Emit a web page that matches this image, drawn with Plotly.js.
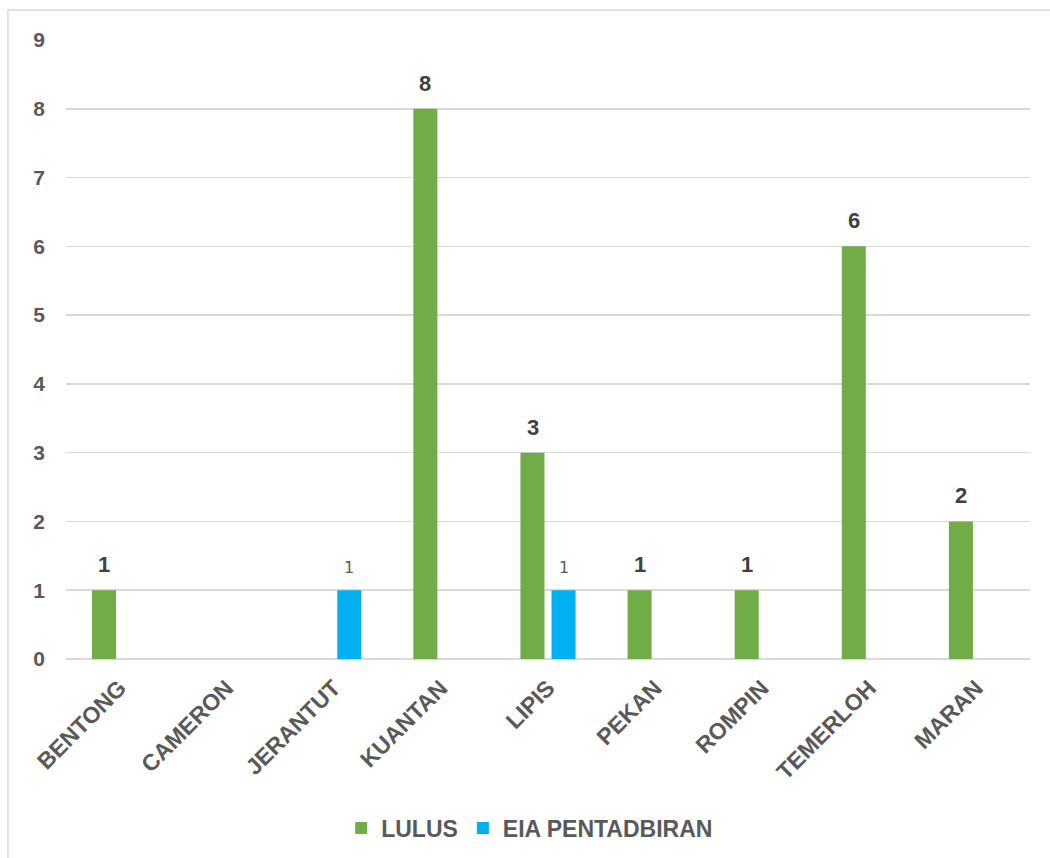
<!DOCTYPE html>
<html>
<head>
<meta charset="utf-8">
<script src="https://cdn.plot.ly/plotly-3.0.1.min.js"></script>
<style>html,body{margin:0;padding:0;background:#fff;}#chart{width:1050px;height:858px;}</style>
</head>
<body>
<div id="chart"></div>
<script>
const categories = ["BENTONG","CAMERON","JERANTUT","KUANTAN","LIPIS","PEKAN","ROMPIN","TEMERLOH","MARAN"];
const lulus = [1, null, null, 8, 3, 1, 1, 6, 2];
const eiaPentadbiran = [null, null, 1, null, 1, null, null, null, null];
const seriesNames = ["LULUS", "EIA PENTADBIRAN"];
const yTicks = [0,1,2,3,4,5,6,7,8,9];

const green = "#70AD47", blue = "#00B0F0";
const FONT = "Liberation Sans, Arial, sans-serif";

const traces = [
  {type:"bar", name:seriesNames[0], x:categories, y:lulus, marker:{color:green}, hoverinfo:"x+y"},
  {type:"bar", name:seriesNames[1], x:categories, y:eiaPentadbiran, marker:{color:blue}, hoverinfo:"x+y"}
];

const annotations = [];
categories.forEach((c,i)=>{
  if (lulus[i] != null) annotations.push({x:c, y:lulus[i], xref:"x", yref:"y", text:String(lulus[i]),
    showarrow:false, xshift:-15.5, yshift:11, yanchor:"bottom",
    font:{family:FONT, size:22, color:"#404040", weight:"bold"}});
  if (eiaPentadbiran[i] != null) annotations.push({x:c, y:eiaPentadbiran[i], xref:"x", yref:"y", text:String(eiaPentadbiran[i]),
    showarrow:false, xshift:15.5, yshift:11, yanchor:"bottom",
    font:{family:"DejaVu Sans, sans-serif", size:16, color:"#595959"}});
});

const layout = {
  width:1050, height:858,
  paper_bgcolor:"#fff", plot_bgcolor:"#fff",
  margin:{l:66, r:20, t:40, b:199, autoexpand:false},
  barmode:"group", bargap:0.42, bargroupgap:0.226,
  font:{family:FONT, color:"#595959"},
  xaxis:{type:"category", tickangle:-45, showgrid:false, showline:false, ticks:"",
    ticklabelstandoff:10, automargin:false,
    tickfont:{family:FONT, size:23, color:"#595959", weight:"bold"}},
  yaxis:{range:[0,9], tickvals:yTicks, showgrid:true, gridcolor:"#d9d9d9", gridwidth:1.5,
    zeroline:true, zerolinecolor:"#d9d9d9", zerolinewidth:1.5, showline:false, ticks:"", ticklen:0,
    ticklabelstandoff:20, automargin:false,
    tickfont:{family:FONT, size:21, color:"#595959", weight:"bold"}},
  showlegend:true,
  legend:{orientation:"h", x:0.481, xanchor:"center", y:-0.273, yanchor:"middle",
    font:{family:FONT, size:23, color:"#595959", weight:"bold"}, traceorder:"normal"},
  annotations:annotations,
  shapes:[
    {type:"line", xref:"paper", yref:"paper", x0:-0.0602, x1:1.05, y0:1.0485, y1:1.0485, line:{color:"#d9d9d9", width:1.5}},
    {type:"line", xref:"paper", yref:"paper", x0:-0.0602, x1:-0.0602, y0:-0.35, y1:1.0485, line:{color:"#d9d9d9", width:1.5}}
  ]
};

Plotly.newPlot("chart", traces, layout, {displayModeBar:false, staticPlot:true});
</script>
</body>
</html>
